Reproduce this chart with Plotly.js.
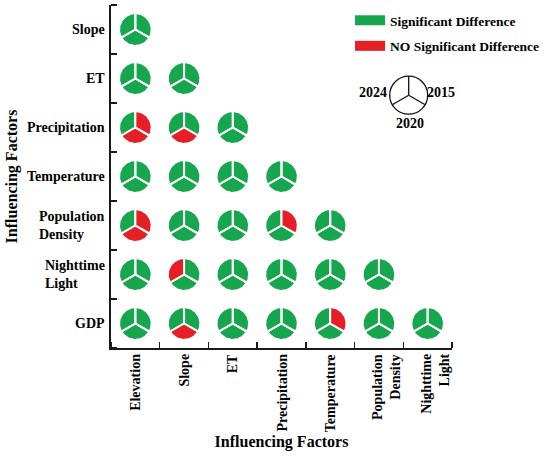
<!DOCTYPE html>
<html>
<head>
<meta charset="utf-8">
<script src="https://cdn.plot.ly/plotly-3.0.1.min.js"></script>
<style>html,body{margin:0;padding:0;background:#fff;}#chart{width:550px;height:456px;}</style>
</head>
<body>
<div id="chart"></div>
<script>
// ---- data ----
const rowFactors = ['Slope', 'ET', 'Precipitation', 'Temperature', 'Population<br>Density', 'Nighttime<br>Light', 'GDP'];
const colFactors = ['Elevation', 'Slope', 'ET', 'Precipitation', 'Temperature', 'Population<br>Density', 'Nighttime<br>Light'];
const years = ['2015', '2020', '2024'];
// 1 = significant difference, 0 = no significant difference (lower triangle, row by row)
const sig2015 = [
  [1],
  [1, 1],
  [0, 1, 1],
  [1, 1, 1, 1],
  [0, 1, 1, 0, 1],
  [1, 1, 1, 1, 1, 1],
  [1, 1, 1, 1, 0, 1, 1]
];
const sig2020 = [
  [1],
  [1, 1],
  [0, 0, 1],
  [1, 1, 1, 1],
  [0, 1, 1, 1, 1],
  [1, 1, 1, 1, 1, 1],
  [1, 0, 1, 1, 1, 1, 1]
];
const sig2024 = [
  [1],
  [1, 1],
  [1, 1, 1],
  [1, 1, 1, 1],
  [1, 1, 1, 1, 1],
  [1, 0, 1, 1, 1, 1],
  [1, 1, 1, 1, 1, 1, 1]
];
const sigByYear = [sig2015, sig2020, sig2024];
const legendNames = ['Significant Difference', 'NO Significant Difference'];
const axisTitle = 'Influencing Factors';

// ---- styles / layout constants ----
const W = 550, H = 456;
const M = {l: 111, r: 98, t: 5, b: 108, autoexpand: false};
const plotW = W - M.l - M.r, plotH = H - M.t - M.b;
const GREEN = '#16a64d';
const RED = '#e61e25';
const FONT = 'Liberation Serif, Times New Roman, serif';
const labelFont = {family: FONT, size: 14, weight: 'bold', color: '#000'};
const sectorStartDeg = [90, -30, -150]; // each year sector spans 120 deg clockwise
const R = 0.335; // pie radius in axis units
const nRows = rowFactors.length;

const gx = [], gy = [], rx = [], ry = [];
for (let i = 0; i < nRows; i++) {
  const cy = nRows - 1 - i;
  for (let j = 0; j <= i; j++) {
    const cx = j;
    for (let k = 0; k < years.length; k++) {
      const ok = sigByYear[k][i][j] === 1;
      const X = ok ? gx : rx, Y = ok ? gy : ry;
      X.push(cx); Y.push(cy);
      const a0 = sectorStartDeg[k];
      for (let s = 0; s <= 40; s++) {
        const a = (a0 - 120 * s / 40) * Math.PI / 180;
        X.push(cx + R * Math.cos(a));
        Y.push(cy + R * Math.sin(a));
      }
      X.push(cx); Y.push(cy);
      X.push(null); Y.push(null);
    }
  }
}

const traces = [
  {x: gx, y: gy, type: 'scatter', mode: 'lines', fill: 'toself', fillcolor: GREEN,
   line: {color: '#ffffff', width: 2}, showlegend: false, hoverinfo: 'skip'},
  {x: rx, y: ry, type: 'scatter', mode: 'lines', fill: 'toself', fillcolor: RED,
   line: {color: '#ffffff', width: 2}, showlegend: false, hoverinfo: 'skip'},
  {x: [null], y: [null], type: 'scatter', mode: 'lines', name: legendNames[0],
   line: {color: GREEN, width: 10}, legendgroup: 'a'},
  {x: [null], y: [null], type: 'scatter', mode: 'lines', name: legendNames[1],
   line: {color: RED, width: 10}, legendgroup: 'b'}
];

// ---- key diagram (paper coordinates) ----
const keyX = 0.873, keyY = 0.737, keyRpx = 19;
const kdx = keyRpx / plotW, kdy = keyRpx / plotH;
const shapes = [{type: 'circle', xref: 'paper', yref: 'paper',
  x0: keyX - kdx, x1: keyX + kdx, y0: keyY - kdy, y1: keyY + kdy,
  line: {color: '#111', width: 1.3}, fillcolor: 'rgba(0,0,0,0)'}];
sectorStartDeg.forEach(function (d) {
  const a = d * Math.PI / 180;
  shapes.push({type: 'line', xref: 'paper', yref: 'paper',
    x0: keyX, y0: keyY, x1: keyX + kdx * Math.cos(a), y1: keyY + kdy * Math.sin(a),
    line: {color: '#111', width: 1.3}});
});
const keyLabelShift = [[32, 3], [1, -28], [-36, 3]]; // 2015 right, 2020 below, 2024 left
const annotations = years.map(function (yr, k) {
  return {xref: 'paper', yref: 'paper', x: keyX, y: keyY, text: yr, showarrow: false,
    xanchor: 'center', yanchor: 'middle',
    xshift: keyLabelShift[k][0], yshift: keyLabelShift[k][1], font: labelFont};
});

// category labels as text next to the axes
colFactors.forEach(function (c, j) {
  const nl = c.split('<br>').length;
  annotations.push({xref: 'x', yref: 'paper', x: j, y: 0, text: c, showarrow: false,
    textangle: -90, align: 'right', xanchor: 'center', yanchor: 'top',
    xshift: 7 * (nl - 1), yshift: -4, font: labelFont});
});
rowFactors.forEach(function (r, i) {
  annotations.push({xref: 'paper', yref: 'y', x: 0, y: nRows - 1 - i, text: r, showarrow: false,
    align: 'left', xanchor: 'right', yanchor: 'middle', xshift: -4, font: labelFont});
});

const bounds = [-0.5, 0.5, 1.5, 2.5, 3.5, 4.5, 5.5, 6.5];
const axisCommon = {
  range: [-0.5, 6.5], showgrid: false, zeroline: false, showline: true,
  linecolor: '#1a1a1a', linewidth: 2, ticks: '', showticklabels: false, fixedrange: true,
  tickmode: 'array', tickvals: bounds,
  minor: {tickmode: 'array', tickvals: bounds, ticks: 'inside', ticklen: 6, tickwidth: 1.5, tickcolor: '#1a1a1a', showgrid: false}
};
const titleFont = {family: FONT, size: 16, weight: 'bold', color: '#000'};

const layout = {
  width: W, height: H,
  margin: M,
  paper_bgcolor: '#fff', plot_bgcolor: '#fff',
  xaxis: Object.assign({}, axisCommon, {title: {text: axisTitle, font: titleFont, standoff: 87}}),
  yaxis: Object.assign({}, axisCommon, {title: {text: axisTitle, font: titleFont, standoff: 87}}),
  showlegend: true,
  legend: {x: 0.701, xanchor: 'left', y: 1, yanchor: 'top', bgcolor: 'rgba(0,0,0,0)',
    font: {family: FONT, size: 13.5, weight: 'bold', color: '#000'}, itemwidth: 30,
    traceorder: 'grouped', tracegroupgap: 5},
  shapes: shapes,
  annotations: annotations
};

Plotly.newPlot('chart', traces, layout, {staticPlot: true, displayModeBar: false});
</script>
</body>
</html>
